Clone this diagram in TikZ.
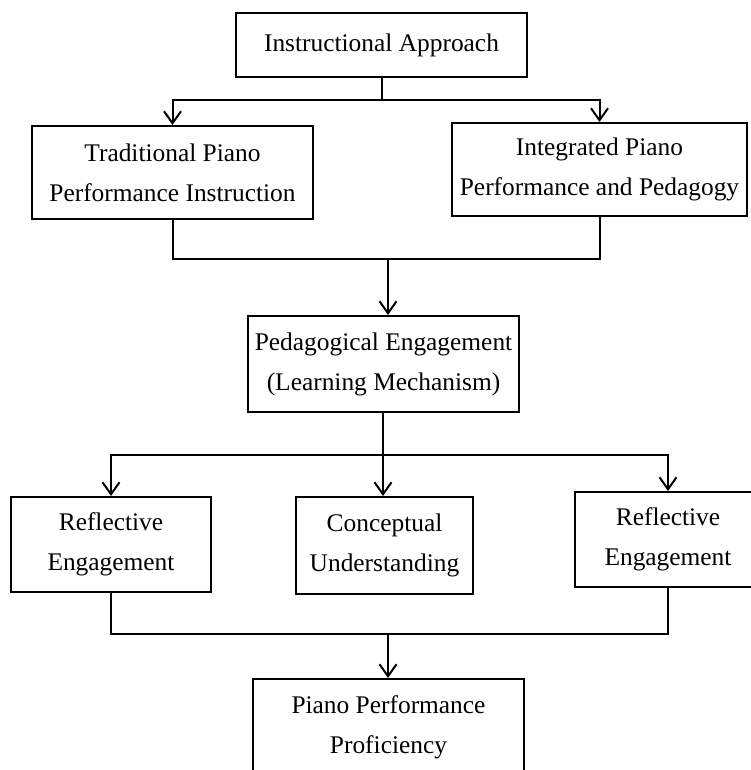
\documentclass[tikz,border=0pt]{standalone}
\usepackage{fontspec}
\setmainfont{Liberation Serif}
\usetikzlibrary{arrows.meta}

\begin{document}
\begin{tikzpicture}[x=0.5pt,y=-0.5pt,line width=1pt,>={Straight Barb[length=6pt,width=8.5pt]}]
\tikzstyle{boite}=[draw,align=center,inner sep=0pt,font=\fontsize{12.7}{20}\selectfont]

\useasboundingbox (0,0) rectangle (750,770);

\node[boite,minimum width=145.5pt,minimum height=32pt] (IA) at (381.5,45) {Instructional Approach};

\node[boite,minimum width=140.5pt,minimum height=46.5pt] (TPI) at (172.5,172.5) {Traditional Piano\\
      Performance Instruction};

\node[boite,minimum width=147.5pt,minimum height=46.5pt] (IPP) at (599.5,169.5) {Integrated Piano\\
      Performance and Pedagogy};

\node[boite,minimum width=135.5pt,minimum height=48pt] (PE) at (383.5,364) {Pedagogical Engagement\\
      (Learning Mechanism)};

\node[boite,minimum width=100pt,minimum height=47.5pt] (RE1) at (111,544.5) {Reflective\\ Engagement};

\node[boite,minimum width=88.5pt,minimum height=48.5pt] (CU) at (384.5,545.5) {Conceptual\\ Understanding};

\node[boite,minimum width=93pt,minimum height=47.5pt] (RE2) at (668,539.5) {Reflective\\ Engagement};

\node[boite,minimum width=135.5pt,minimum height=48pt] (PPP) at (388.5,727) {Piano Performance\\ Proficiency};

\coordinate (J1) at (382,100);
\coordinate (J2) at (388,259);
\coordinate (J3) at (383,455);
\coordinate (J4) at (388,634);

\draw (J1 |- IA.south) -- (J1);
\draw[->] (J1) -| (TPI);
\draw[->] (J1) -| (IPP);
\draw (TPI) |- (J2);
\draw (IPP) |- (J2);
\draw[->] (J2) -- (J2 |- PE.north);
\draw (J3 |- PE.south) -- (J3);
\draw[->] (J3) -| (RE1);
\draw[->] (J3) -- (J3 |- CU.north);
\draw[->] (J3) -| (RE2);
\draw (RE1) |- (J4);
\draw (RE2) |- (J4);
\draw[->] (J4) -- (J4 |- PPP.north);

\end{tikzpicture}
\end{document}
